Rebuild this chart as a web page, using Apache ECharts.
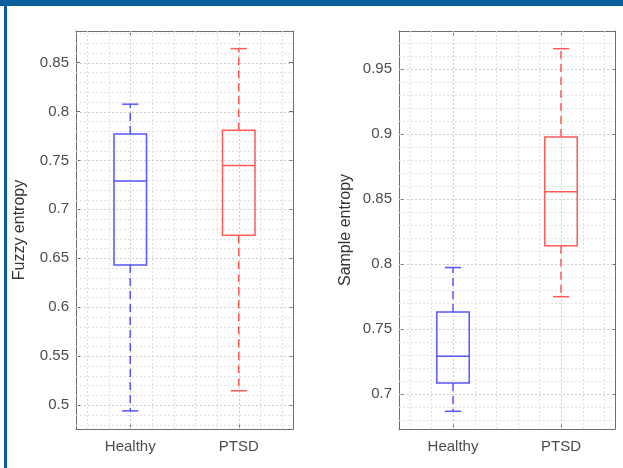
<!DOCTYPE html>
<html>
<head>
<meta charset="utf-8">
<script src="https://cdn.jsdelivr.net/npm/echarts@6/dist/echarts.min.js"></script>
<style>
  html, body { margin: 0; padding: 0; background: #fff; }
  #main { width: 623px; height: 468px; }
</style>
</head>
<body>
<div id="main"></div>
<script>
// categories
var groups = ['Healthy', 'PTSD'];
var groupColors = ['#5656ff', '#ff5a5a'];

// box stats: [lower whisker, q1, median, q3, upper whisker]
var fuzzyHealthy = [0.494, 0.643, 0.729, 0.777, 0.8075];
var fuzzyPtsd    = [0.5146, 0.6735, 0.7447, 0.7809, 0.8643];
var sampleHealthy = [0.6869, 0.7087, 0.7292, 0.7633, 0.7974];
var samplePtsd    = [0.775, 0.8141, 0.8556, 0.8977, 0.9656];

// axis ranges (y)
var fuzzyRange = [0.4755, 0.8823];
var sampleRange = [0.6733, 0.9792];

var dom = document.getElementById('main');
var myChart = echarts.init(dom);

var axisGray = '#6e6e6e';
var labelGray = '#4d4d4d';
var fontFam = 'Liberation Sans, Arial, sans-serif';

// dotted grid lines (major + minor), drawn through the axes' scales
function gridData(range) {
    var d = [];
    var i, v;
    for (i = 6; i <= 24; i += 2) {            // x: every 0.2
        v = i / 10;
        d.push([0, v, (i % 10 === 0) ? 1 : 0]);
    }
    for (i = Math.ceil(range[0] * 100); i <= Math.floor(range[1] * 100); i++) {  // y: every 0.01
        d.push([1, i / 100, (i % 5 === 0) ? 1 : 0]);
    }
    return d;
}

function renderGrid(params, api) {
    var cs = params.coordSys;
    var dir = api.value(0), v = api.value(1), major = api.value(2);
    var shape;
    if (dir === 0) {
        var px = Math.round(api.coord([v, 0.7])[0]) + 0.5;
        shape = { x1: px, y1: cs.y, x2: px, y2: cs.y + cs.height };
    } else {
        var py = Math.round(api.coord([1, v])[1]) + 0.5;
        shape = { x1: cs.x, y1: py, x2: cs.x + cs.width, y2: py };
    }
    return {
        type: 'line', silent: true, shape: shape,
        style: { stroke: major ? '#d0d0d0' : '#e0e0e0', lineWidth: 1, lineDash: [2, 2] }
    };
}

// box + dashed whiskers + short caps
function renderBox(params, api) {
    var x = api.value(0);
    var lo = api.value(1), q1 = api.value(2), med = api.value(3), q3 = api.value(4), hi = api.value(5);
    var color = groupColors[Math.round(x) - 1];
    var bw = 0.15, cw = 0.075;
    var pL = api.coord([x - bw, q3]), pR = api.coord([x + bw, q1]);
    var c = api.coord([x, med]);
    var cL = api.coord([x - cw, hi])[0], cR = api.coord([x + cw, hi])[0];
    var yHi = api.coord([x, hi])[1], yLo = api.coord([x, lo])[1];
    var yQ3 = pL[1], yQ1 = pR[1];
    var solid = { stroke: color, lineWidth: 1.5, fill: null };
    var dashed = { stroke: color, lineWidth: 1.5, lineDash: [8, 5] };
    return {
        type: 'group',
        children: [
            { type: 'line', shape: { x1: c[0], y1: yQ3, x2: c[0], y2: yHi }, style: dashed },
            { type: 'line', shape: { x1: c[0], y1: yQ1, x2: c[0], y2: yLo }, style: dashed },
            { type: 'line', shape: { x1: cL, y1: yHi, x2: cR, y2: yHi }, style: solid },
            { type: 'line', shape: { x1: cL, y1: yLo, x2: cR, y2: yLo }, style: solid },
            { type: 'rect', shape: { x: pL[0], y: yQ3, width: pR[0] - pL[0], height: yQ1 - yQ3 }, style: solid },
            { type: 'line', shape: { x1: pL[0], y1: c[1], x2: pR[0], y2: c[1] }, style: solid }
        ]
    };
}

function boxRows(a, b) {
    return [[1].concat(a), [2].concat(b)];
}

function xAxes(gi) {
    return [
        {
            type: 'value', gridIndex: gi, position: 'bottom', min: 0.5, max: 2.5,
            minInterval: 1, maxInterval: 1,
            axisLine: { show: true, lineStyle: { color: axisGray } },
            axisTick: { show: true, inside: true, length: 4, lineStyle: { color: axisGray } },
            axisLabel: {
                color: labelGray, fontSize: 15, fontFamily: fontFam, margin: 10,
                formatter: function (v) { return groups[Math.round(v) - 1] && Math.abs(v - Math.round(v)) < 1e-6 ? groups[Math.round(v) - 1] : ''; }
            },
            splitLine: { show: false }
        },
        {
            type: 'value', gridIndex: gi, position: 'top', min: 0.5, max: 2.5,
            minInterval: 1, maxInterval: 1,
            axisLine: { show: true, lineStyle: { color: axisGray } },
            axisTick: { show: true, inside: true, length: 4, lineStyle: { color: axisGray } },
            axisLabel: { show: false },
            splitLine: { show: false }
        }
    ];
}

function yAxes(gi, range, name, gap) {
    return [
        {
            type: 'value', gridIndex: gi, position: 'left', min: range[0], max: range[1],
            minInterval: 0.05, maxInterval: 0.05,
            name: name, nameLocation: 'middle', nameGap: gap, nameRotate: 90,
            nameTextStyle: { color: '#333', fontSize: 16, fontFamily: fontFam },
            axisLine: { show: true, lineStyle: { color: axisGray } },
            axisTick: { show: true, inside: true, length: 4, lineStyle: { color: axisGray } },
            axisLabel: { color: labelGray, fontSize: 15, fontFamily: fontFam, margin: 7, showMinLabel: false, showMaxLabel: false },
            splitLine: { show: false }
        },
        {
            type: 'value', gridIndex: gi, position: 'right', min: range[0], max: range[1],
            minInterval: 0.05, maxInterval: 0.05,
            axisLine: { show: true, lineStyle: { color: axisGray } },
            axisTick: { show: true, inside: true, length: 4, lineStyle: { color: axisGray } },
            axisLabel: { show: false },
            splitLine: { show: false }
        }
    ];
}

var option = {
    backgroundColor: '#fff',
    animation: false,
    graphic: [
        { type: 'rect', left: 0, top: 0, shape: { width: 623, height: 6 }, style: { fill: '#0b5e9c' }, z: 100 },
        { type: 'rect', left: 4, top: 0, shape: { width: 3, height: 468 }, style: { fill: '#0b5e9c' }, z: 100 }
    ],
    grid: [
        { left: 76, top: 31, width: 217, height: 398 },
        { left: 399, top: 31, width: 216, height: 398 }
    ],
    xAxis: xAxes(0).concat(xAxes(1)),
    yAxis: yAxes(0, fuzzyRange, 'Fuzzy entropy', 48).concat(yAxes(1, sampleRange, 'Sample entropy', 45)),
    series: [
        { type: 'custom', xAxisIndex: 0, yAxisIndex: 0, renderItem: renderGrid, data: gridData(fuzzyRange), silent: true, clip: true, z: 1 },
        { type: 'custom', xAxisIndex: 2, yAxisIndex: 2, renderItem: renderGrid, data: gridData(sampleRange), silent: true, clip: true, z: 1 },
        { type: 'custom', name: 'Fuzzy entropy', xAxisIndex: 0, yAxisIndex: 0, renderItem: renderBox, data: boxRows(fuzzyHealthy, fuzzyPtsd), z: 5 },
        { type: 'custom', name: 'Sample entropy', xAxisIndex: 2, yAxisIndex: 2, renderItem: renderBox, data: boxRows(sampleHealthy, samplePtsd), z: 5 }
    ]
};

myChart.setOption(option);
window.onresize = myChart.resize;
</script>
</body>
</html>
